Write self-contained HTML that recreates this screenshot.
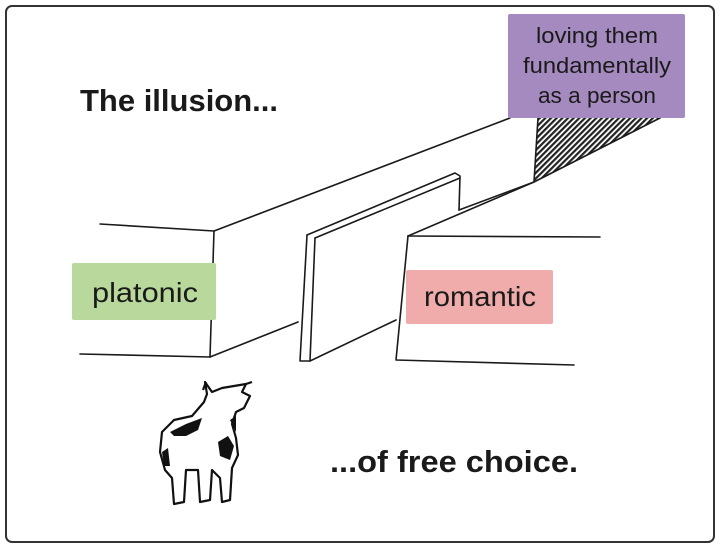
<!DOCTYPE html>
<html><head><meta charset="utf-8"><style>
body{margin:0;background:#fff;}
svg{display:block}
.t{font-family:"Liberation Sans",sans-serif;font-weight:bold;font-size:31px;fill:#1a1a1a}
.l{font-family:"Liberation Sans",sans-serif;fill:#1a1a1a}
</style></head><body>
<svg width="720" height="548" viewBox="0 0 720 548">
<rect x="0" y="0" width="720" height="548" fill="#fff"/>
<rect x="6" y="6" width="708" height="536" rx="6" fill="none" stroke="#333" stroke-width="2"/>
<defs><pattern id="h" width="4" height="4" patternUnits="userSpaceOnUse" patternTransform="rotate(45)"><rect width="4" height="4" fill="#fff"/><rect width="2.2" height="4" fill="#222"/></pattern></defs>
<polygon points="538,118 534,182 660,118" fill="url(#h)"/>
<g fill="none" stroke="#1a1a1a" stroke-width="1.6" stroke-linecap="round" stroke-linejoin="round">
<path d="M100,224 L214,231 L510,118"/>
<path d="M214,231 L210,357 L80,354"/>
<path d="M210,357 L298,322"/>
<path d="M307,235 L455,173 L460,176 L459,210"/>
<path d="M315,238 L460,178"/>
<path d="M307,235 L300,361 L310,361 L315,238"/>
<path d="M310,361 L396,320"/>
<path d="M459,210 L534,182 L538,118"/>
<path d="M408,236 L534,182 L660,118"/>
<path d="M408,236 L600,237"/>
<path d="M408,236 L396,360 L574,365"/>
</g>
<text class="t" x="80" y="111" textLength="198" lengthAdjust="spacingAndGlyphs">The illusion...</text>
<text class="t" x="330" y="472" textLength="248" lengthAdjust="spacingAndGlyphs">...of free choice.</text>
<rect x="508" y="14" width="177" height="104" rx="2" fill="#a48abf"/>
<text class="l" font-size="22" text-anchor="middle" x="597" y="43" textLength="122" lengthAdjust="spacingAndGlyphs">loving them</text>
<text class="l" font-size="22" text-anchor="middle" x="597" y="73" textLength="148" lengthAdjust="spacingAndGlyphs">fundamentally</text>
<text class="l" font-size="22" text-anchor="middle" x="597" y="103" textLength="118" lengthAdjust="spacingAndGlyphs">as a person</text>
<rect x="72" y="263" width="144" height="57" rx="2" fill="#b8d89c"/>
<text class="l" font-size="28" text-anchor="middle" x="145" y="302" textLength="106" lengthAdjust="spacingAndGlyphs">platonic</text>
<rect x="406" y="270" width="147" height="54" rx="2" fill="#f0abab"/>
<text class="l" font-size="28" text-anchor="middle" x="480" y="306" textLength="112" lengthAdjust="spacingAndGlyphs">romantic</text>
<g stroke="#111" stroke-width="2.2" fill="#fff" stroke-linejoin="round">
<path d="M205,382 L212,392 L222,388 L234,386 L246,384 L242,392 L250,396 L244,408 L236,412 L232,424 L236,438 L238,455 L232,468 L230,500 L222,502 L220,478 L212,470 L210,500 L200,502 L198,470 L186,470 L184,502 L174,504 L172,478 L165,470 L160,452 L162,432 L174,420 L192,416 L204,402 L207,394 Z"/>
<path d="M206,382 L203,390 M246,384 L252,382" fill="none"/>
</g>
<g fill="#111">
<path d="M170,432 L186,424 L202,418 L198,430 L186,436 L174,436 Z"/>
<path d="M218,442 L228,436 L234,446 L230,460 L220,456 Z"/>
<path d="M162,452 L168,448 L170,466 L164,466 Z"/>
<path d="M230,420 L236,416 L236,432 Z"/>
</g>
</svg>
</body></html>
